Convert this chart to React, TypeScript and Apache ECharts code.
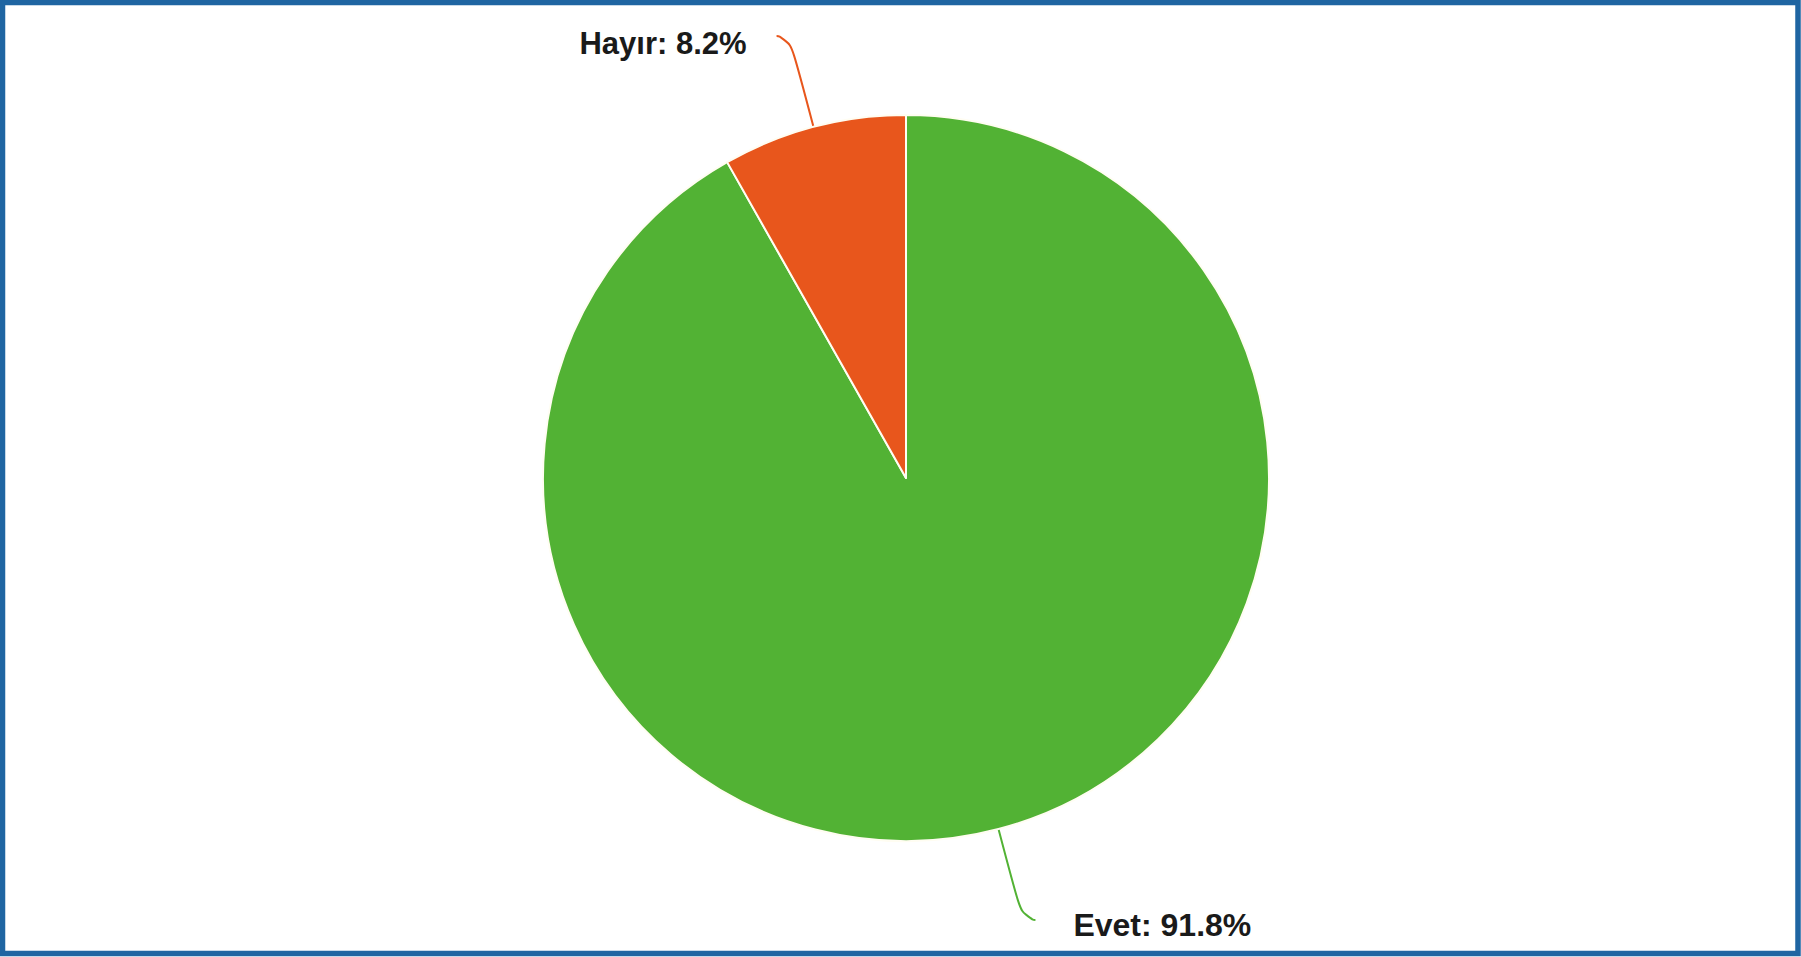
import React, { useEffect, useRef } from "react";
import * as echarts from "echarts";

const categories = ["Evet", "Hayır"];
const values = [91.8, 8.2];
const colors = ["#52b234", "#e8561c"];

export default function App() {
  const ref = useRef<HTMLDivElement>(null);
  useEffect(() => {
    if (!ref.current) return;
    const chart = echarts.init(ref.current, null, { renderer: "svg" });
    const textStyle = {
      fontFamily: "Liberation Sans, Arial, sans-serif",
      fontWeight: "bold",
      color: "#1a1a1a",
    };
    chart.setOption({
      animation: false,
      backgroundColor: "#ffffff",
      graphic: [
        {
          type: "rect",
          shape: { x: 2.5, y: 2.5, width: 1795.5, height: 951 },
          style: { fill: "none", stroke: "#1f65a2", lineWidth: 5.5 },
          z: 100,
        },
      ],
      series: [
        {
          type: "pie",
          center: [906, 478],
          radius: 363,
          startAngle: 90,
          clockwise: true,
          avoidLabelOverlap: false,
          itemStyle: { borderColor: "#fffdf2", borderWidth: 2 },
          label: {
            show: true,
            position: "outside",
            formatter: (p: any) =>
              p.dataIndex === 0
                ? `{e|${p.name}: ${p.value}%}`
                : `{h|${p.name}: ${p.value}%}`,
            ...textStyle,
            fontSize: 31,
            distanceToLabelLine: 30,
            rich: {
              h: { ...textStyle, fontSize: 31, padding: [14, 0, 0, 0] },
              e: { ...textStyle, fontSize: 32, padding: [10, 0, 0, 0] },
            },
          },
          labelLine: {
            show: true,
            length: 94,
            length2: 13,
            smooth: 0.8,
            lineStyle: { width: 2 },
          },
          data: categories.map((c, i) => ({
            name: c,
            value: values[i],
            itemStyle: { color: colors[i] },
            label: i === 0 ? { distanceToLabelLine: 38 } : {},
          })),
        },
      ],
    });
    return () => chart.dispose();
  }, []);
  return (
    <div
      ref={ref}
      style={{ position: "absolute", left: 0, top: 0, width: 1801, height: 957 }}
    />
  );
}
